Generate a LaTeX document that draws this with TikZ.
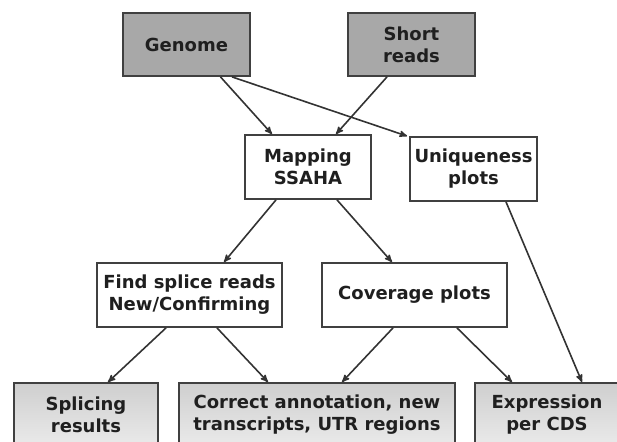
\documentclass[tikz,border=0pt]{standalone}
\usepackage{fontspec}
\setmainfont{DejaVu Sans}
\usetikzlibrary{arrows}

\begin{document}
\begin{tikzpicture}[x=1pt, y=-1pt]
    \path[use as bounding box, clip] (0,0) rectangle (617,441);

    \tikzset{BoxStyle/.style={draw=black!75, line width=1.8pt, align=center,
        inner sep=0pt, minimum width=127pt, minimum height=63pt,
        font=\bfseries\fontsize{18}{22}\selectfont, text=black!88}}

    \tikzset{BoxStyle/.append style={fill=black!34}}
    \node[BoxStyle] (G) at (186.5,44.5) {Genome};
    \node[BoxStyle] (R) at (411.5,44.5) {Short\\reads};

    \tikzset{BoxStyle/.append style={fill=white}}
    \node[BoxStyle, minimum width=126pt, minimum height=64pt] (M) at (308,167) {Mapping\\SSAHA};
    \node[BoxStyle, minimum height=64pt] (U) at (473.5,169) {Uniqueness\\plots};
    \node[BoxStyle, minimum width=185pt, minimum height=64pt] (F) at (189.5,295) {Find splice reads\\New/Confirming};
    \node[BoxStyle, minimum width=185pt, minimum height=64pt] (C) at (414.5,295) {Coverage plots};

    \tikzset{BoxStyle/.append style={top color=black!19, bottom color=black!8}}
    \node[BoxStyle, minimum width=144pt, minimum height=64pt] (S) at (86,415) {Splicing\\results};
    \node[BoxStyle, minimum width=276pt, minimum height=64pt] (A) at (317,415) {Correct annotation, new\\transcripts, UTR regions};
    \node[BoxStyle, minimum width=144pt, minimum height=64pt] (E) at (547,415) {Expression\\per CDS};

    \tikzset{EdgeStyle/.style={->, >=stealth', draw=black!80, line width=1.6pt}}
    \draw[EdgeStyle] ([xshift=34]G.south) -- ([xshift=-36]M.north);
    \draw[EdgeStyle] ([xshift=-24.5]R.south) -- ([xshift=28]M.north);
    \draw[EdgeStyle] ([xshift=45.5]G.south) -- ([xshift=-2]U.north west);
    \draw[EdgeStyle] ([xshift=-32]M.south) -- ([xshift=34.5]F.north);
    \draw[EdgeStyle] ([xshift=29]M.south) -- ([xshift=-22.5]C.north);
    \draw[EdgeStyle] ([xshift=32.5]U.south) -- ([xshift=35]E.north);
    \draw[EdgeStyle] ([xshift=-23.5]F.south) -- ([xshift=22]S.north);
    \draw[EdgeStyle] ([xshift=27.5]F.south) -- ([xshift=-49]A.north);
    \draw[EdgeStyle] ([xshift=-21.5]C.south) -- ([xshift=25]A.north);
    \draw[EdgeStyle] ([xshift=42.5]C.south) -- ([xshift=-35]E.north);
\end{tikzpicture}
\end{document}
